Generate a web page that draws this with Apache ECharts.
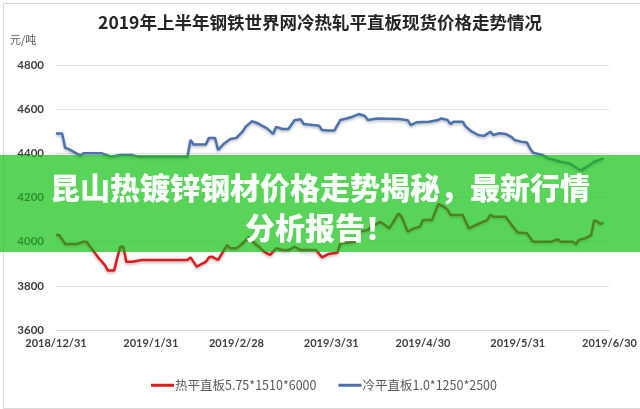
<!DOCTYPE html>
<html>
<head>
<meta charset="utf-8">
<script src="https://cdn.jsdelivr.net/npm/echarts@6/dist/echarts.min.js"></script>
<style>
html,body{margin:0;padding:0;background:#fff;}
#main{width:640px;height:409px;}
</style>
</head>
<body>
<div id="main"></div>
<script>
// x values are days counted from 2018/12/31
var tickDays = [0, 31, 59, 90, 120, 151, 181];
var tickLabels = ['2018/12/31', '2019/1/31', '2019/2/28', '2019/3/31', '2019/4/30', '2019/5/31', '2019/6/30'];

var hotName = '热平直板5.75*1510*6000';
var hotDays = [0,1,3,7,9,10,12,14,16,17,19,20,21,22,23,25,28,43,44,46,48,49,50,51,53,54,56,57,59,61,63,65,67,68,70,72,74,76,78,80,85,87,89,92,93,98,99,102,103,106,108,109,112,113,115,117,119,120,123,125,127,128,129,133,135,138,141,142,143,147,149,151,154,156,162,164,165,169,170,171,173,175,176,177,178,179];
var hotPrices = [4030,4030,3990,3990,4000,4000,3962,3925,3894,3869,3869,3925,3977,3977,3909,3909,3917,3917,3929,3887,3902,3909,3929,3932,3917,3940,3985,3970,3970,3992,4020,3992,3970,3955,3940,3970,3962,3962,3977,3962,3962,3929,3944,3950,3992,4000,4045,4053,4068,4090,4071,4060,4128,4113,4045,4060,4068,4098,4098,4171,4156,4145,4121,4121,4060,4080,4098,4121,4113,4113,4075,4041,4038,4000,4000,4011,4000,4000,3988,4008,4015,4030,4098,4092,4080,4086];

var coldName = '冷平直板1.0*1250*2500';
var coldDays = [0,2,3,4,8,9,15,18,21,25,27,43,44,45,49,50,52,53,55,57,59,61,62,64,66,67,69,71,72,74,76,78,80,81,84,86,87,89,91,93,95,97,99,101,102,105,112,115,116,118,122,125,126,128,129,130,133,134,136,138,140,142,143,145,147,149,150,152,154,155,156,159,161,163,165,168,171,172,174,176,179];
var coldPrices = [4490,4490,4425,4420,4390,4400,4400,4385,4392,4392,4385,4385,4460,4440,4440,4470,4470,4415,4445,4465,4470,4498,4520,4545,4536,4528,4513,4488,4520,4510,4510,4550,4554,4533,4528,4525,4506,4503,4503,4551,4558,4566,4578,4569,4551,4558,4555,4550,4528,4541,4543,4551,4558,4551,4533,4543,4543,4521,4498,4483,4479,4498,4483,4491,4488,4473,4460,4453,4449,4422,4403,4393,4377,4370,4362,4354,4327,4325,4343,4362,4377];

var titleText = '2019年上半年钢铁世界网冷热轧平直板现货价格走势情况';
var unitText = '元/吨';
var bannerLine1 = '昆山热镀锌钢材价格走势揭秘，最新行情';
var bannerLine2 = '分析报告！';

function pairs(xs, ys) { return xs.map(function (x, i) { return [x, ys[i]]; }); }

var chart = echarts.init(document.getElementById('main'), null, {renderer: 'canvas'});
var labelFont = 'Lato, "Liberation Sans", sans-serif';
var cjk = '"Noto Sans CJK SC", sans-serif';
var option = {
  animation: false,
  backgroundColor: '#fff',
  title: {
    text: titleText,
    left: 'center',
    top: 9,
    textStyle: {fontSize: 17.5, fontWeight: 'bold', color: '#262626', fontFamily: cjk}
  },
  grid: {left: 56, right: 26, top: 65, bottom: 79},
  legend: {
    left: 146, top: 374,
    itemWidth: 23, itemHeight: 3, itemGap: 22,
    icon: 'rect',
    textStyle: {fontSize: 12.5, color: '#595959', fontFamily: cjk, padding: [0, 0, 0, -4]},
    data: [hotName, coldName]
  },
  xAxis: {
    type: 'value', min: 0, max: 181,
    splitLine: {show: false},
    axisLine: {lineStyle: {color: '#d9d9d9', width: 1}},
    axisTick: {show: false},
    axisLabel: {
      customValues: tickDays,
      formatter: function (v) { var i = tickDays.indexOf(v); return i >= 0 ? tickLabels[i] : ''; },
      fontSize: 11, fontWeight: 'bold', color: '#404040', fontFamily: labelFont, margin: 8
    }
  },
  yAxis: {
    type: 'value', min: 3600, max: 4800, interval: 200,
    axisLine: {show: false}, axisTick: {show: false},
    splitLine: {lineStyle: {color: '#e6e6e6', width: 1}},
    axisLabel: {formatter: function (v) { return String(v); }, fontSize: 11.5, fontWeight: 'bold', color: '#404040', fontFamily: labelFont, margin: 12}
  },
  series: [
    {
      name: hotName, type: 'line', showSymbol: false, data: pairs(hotDays, hotPrices),
      itemStyle: {color: '#e01b1b'},
      lineStyle: {color: '#e01b1b', width: 2.5, shadowColor: 'rgba(0,0,0,0.3)', shadowBlur: 3, shadowOffsetY: 1.5}
    },
    {
      name: coldName, type: 'line', showSymbol: false, data: pairs(coldDays, coldPrices),
      itemStyle: {color: '#4a72b0'},
      lineStyle: {color: '#4a72b0', width: 2.5, shadowColor: 'rgba(0,0,0,0.3)', shadowBlur: 3, shadowOffsetY: 1.5}
    }
  ],
  graphic: [
    {type: 'rect', left: 1, top: 1, z: 1, shape: {width: 637, height: 405}, style: {fill: null, stroke: '#d9d9d9', lineWidth: 1}, silent: true},
    {type: 'text', left: 10, top: 34, z: 5, style: {text: unitText, fontSize: 11, fill: '#595959', fontFamily: cjk}},
    {type: 'rect', left: 0, top: 155, z: 100, shape: {width: 640, height: 97}, style: {fill: 'rgba(88,214,88,0.6)'}, silent: true},
    {type: 'rect', left: 0, top: 155, z: 101, shape: {width: 640, height: 97}, style: {fill: 'rgb(145,237,145)', blend: 'multiply'}, silent: true},
    {type: 'text', x: 320, y: 188, z: 110, style: {text: bannerLine1, fill: '#ffffff', fontSize: 30, fontWeight: 900, fontFamily: cjk, textAlign: 'center', textVerticalAlign: 'middle', shadowColor: 'rgba(0,0,0,0.35)', shadowBlur: 2, shadowOffsetY: 1}},
    {type: 'text', x: 320, y: 228, z: 110, style: {text: bannerLine2, fill: '#ffffff', fontSize: 30, fontWeight: 900, fontFamily: cjk, textAlign: 'center', textVerticalAlign: 'middle', shadowColor: 'rgba(0,0,0,0.35)', shadowBlur: 2, shadowOffsetY: 1}}
  ]
};
chart.setOption(option);
</script>
</body>
</html>
